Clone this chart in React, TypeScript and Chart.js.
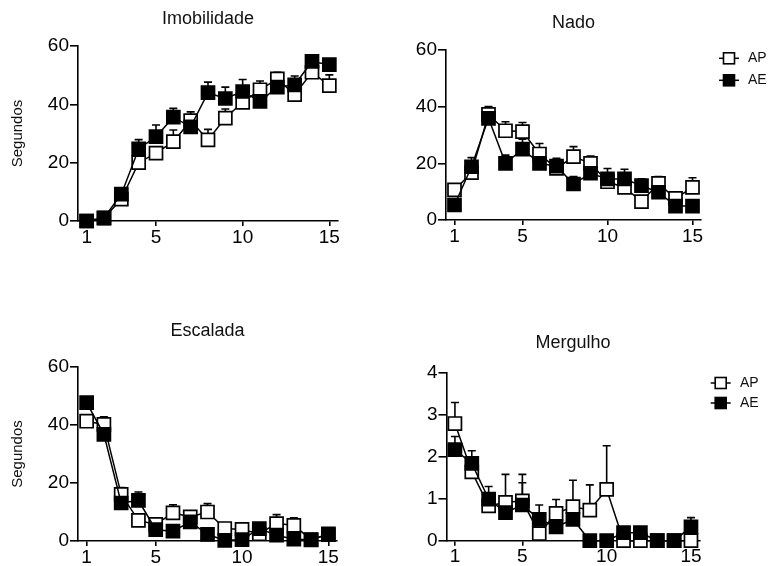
import React, { useEffect, useRef } from 'react';
import { Chart, registerables } from 'chart.js';

Chart.register(...registerables);

// ---- data ----
const days = [1, 2, 3, 4, 5, 6, 7, 8, 9, 10, 11, 12, 13, 14, 15];
const xTickValues = [1, 5, 10, 15];
const seriesLabels = ['AP', 'AE'];

const imobAP = [0, 1, 7.5, 20, 23.3, 27.2, 34.4, 27.8, 35.3, 40.7, 45, 48.7, 43.3, 51, 46.4];
const imobAPErr = [0.5, 0.5, 1, 1.5, 2, 4, 3, 3.6, 3.1, 3, 3, 2.3, 2, 2, 3.7];
const imobAE = [0, 1.1, 9.2, 24.7, 28.9, 35.6, 32.3, 44, 42, 44.4, 41, 45.9, 46.7, 54.7, 53.6];
const imobAEErr = [0.3, 0.5, 1, 3.2, 4, 3, 3, 3.6, 3.9, 4.1, 4, 2, 3, 1.5, 2];

const nadoAP = [10.6, 16.7, 37.3, 31.5, 31.2, 23.3, 18.2, 22.4, 20, 13.5, 11.5, 6.5, 12.9, 7.6, 11.5];
const nadoAPErr = [1, 1, 2.7, 3.2, 3.2, 3.7, 1.5, 3.5, 2.6, 1.5, 1.5, 1.5, 2.4, 1, 3.4];
const nadoAE = [5.3, 18.8, 35.9, 20, 25, 20, 19, 12.7, 16.5, 14.5, 14.5, 12.1, 9.8, 4.9, 4.9];
const nadoAEErr = [1, 3.2, 2, 2.9, 3.5, 2.4, 2.8, 2.6, 2.9, 3.7, 3.4, 2.4, 1.5, 1, 1];

const escAP = [41.3, 40.2, 16.1, 7.1, 5.7, 9.7, 8.3, 10, 4.3, 4, 2.5, 6, 5.4, 0.5, 2.2];
const escAPErr = [1, 2.6, 2.3, 1, 1, 2.8, 1.9, 2.9, 1, 1, 1, 3.1, 2.6, 0.5, 0.5];
const escAE = [47.7, 36.8, 13.1, 14, 3.9, 3.4, 6.6, 2.3, 0.2, 0.5, 4.3, 2, 0.6, 0.4, 2.5];
const escAEErr = [1, 2, 1.5, 2.9, 1, 1, 1.5, 0.5, 0.3, 0.3, 1, 0.5, 0.3, 0.3, 0.5];

const mergAP = [2.79, 1.64, 0.83, 0.91, 0.95, 0.17, 0.65, 0.81, 0.73, 1.22, 0, 0, 0, 0, 0];
const mergAPErr = [0.5, 0.1, 0.1, 0.67, 0.63, 0.1, 0.33, 0.63, 0.6, 1.04, 0, 0, 0, 0, 0];
const mergAE = [2.17, 1.84, 0.99, 0.67, 0.85, 0.51, 0.33, 0.51, 0, 0, 0.19, 0.19, 0, 0, 0.33];
const mergAEErr = [0.31, 0.3, 0.3, 0.2, 0.53, 0.34, 0.1, 0.14, 0, 0, 0.1, 0.1, 0, 0, 0.22];

const FONT = '"Liberation Sans", Arial, Helvetica, sans-serif';
Chart.defaults.font.family = FONT;
Chart.defaults.color = '#000';

// ---- plugins ----
const errorBarPlugin = {
  id: 'errorBars',
  beforeDatasetsDraw(chart: any) {
    const ctx = chart.ctx;
    const yScale = chart.scales.y;
    chart.data.datasets.forEach((ds: any, di: number) => {
      const meta = chart.getDatasetMeta(di);
      const errs = ds.errors as number[] | undefined;
      if (!errs) return;
      ctx.save();
      ctx.strokeStyle = '#000';
      ctx.lineWidth = 1.6;
      meta.data.forEach((pt: any, i: number) => {
        const e = errs[i];
        if (!e) return;
        const v = ds.data[i].y;
        const yTop = yScale.getPixelForValue(v + e);
        ctx.beginPath();
        ctx.moveTo(pt.x, pt.y);
        ctx.lineTo(pt.x, yTop);
        ctx.moveTo(pt.x - 4, yTop);
        ctx.lineTo(pt.x + 4, yTop);
        ctx.stroke();
      });
      ctx.restore();
    });
  },
};

const sideLegendPlugin = {
  id: 'sideLegend',
  afterDraw(chart: any, _args: any, opts: any) {
    if (!opts || !opts.show) return;
    const ctx = chart.ctx;
    ctx.save();
    ctx.font = `14px ${FONT}`;
    ctx.textBaseline = 'middle';
    ctx.textAlign = 'left';
    const order = [...chart.data.datasets].sort((a: any, b: any) => a.legendIndex - b.legendIndex);
    order.forEach((ds: any, i: number) => {
      const y = opts.top + i * opts.rowGap;
      const x0 = opts.left;
      ctx.strokeStyle = '#000';
      ctx.lineWidth = 1.5;
      ctx.beginPath();
      ctx.moveTo(x0, y);
      ctx.lineTo(x0 + 20, y);
      ctx.stroke();
      const s = 11;
      ctx.fillStyle = ds.pointBackgroundColor;
      ctx.fillRect(x0 + 10 - s / 2, y - s / 2, s, s);
      ctx.lineWidth = 1.6;
      ctx.strokeRect(x0 + 10 - s / 2, y - s / 2, s, s);
      ctx.fillStyle = '#111';
      ctx.fillText(ds.label, opts.textX, y);
    });
    ctx.restore();
  },
};

type PanelProps = {
  title: string;
  ap: number[];
  apErr: number[];
  ae: number[];
  aeErr: number[];
  yMax: number;
  yStep: number;
  yTitle: boolean;
  left: number;
  top: number;
  width: number;
  height: number;
  areaLeft: number;
  padRight: number;
  xAxisHeight: number;
  padBottom: number;
  titlePadTop: number;
  titlePadBottom: number;
  legend?: { left: number; top: number; rowGap: number; textX: number };
};

function Panel(p: PanelProps) {
  const ref = useRef<HTMLCanvasElement | null>(null);
  useEffect(() => {
    if (!ref.current) return;
    const mk = (vals: number[]) => days.map((d, i) => ({ x: d, y: vals[i] }));
    const chart = new Chart(ref.current, {
      type: 'line',
      data: {
        datasets: [
          {
            label: seriesLabels[0],
            data: mk(p.ap),
            errors: p.apErr,
            legendIndex: 0,
            order: 2,
            borderColor: '#000',
            borderWidth: 1.5,
            pointStyle: 'rect',
            pointRadius: 9.2,
            pointBorderWidth: 1.7,
            pointBorderColor: '#000',
            pointBackgroundColor: '#fff',
            tension: 0,
            clip: false,
          } as any,
          {
            label: seriesLabels[1],
            data: mk(p.ae),
            errors: p.aeErr,
            legendIndex: 1,
            order: 1,
            borderColor: '#000',
            borderWidth: 1.5,
            pointStyle: 'rect',
            pointRadius: 9.2,
            pointBorderWidth: 1.7,
            pointBorderColor: '#000',
            pointBackgroundColor: '#000',
            tension: 0,
            clip: false,
          } as any,
        ],
      },
      options: {
        responsive: false,
        animation: false,
        events: [],
        layout: {
          padding: { left: 0, top: 0, right: p.padRight, bottom: p.padBottom },
        },
        scales: {
          x: {
            type: 'linear',
            min: 0.5,
            max: 15.5,
            afterBuildTicks: (scale: any) => {
              scale.ticks = xTickValues.map((v) => ({ value: v }));
            },
            afterFit: (scale: any) => {
              scale.height = p.xAxisHeight;
            },
            ticks: {
              autoSkip: false,
              maxRotation: 0,
              padding: 0,
              color: '#000',
              font: { size: 19 },
            },
            grid: {
              display: true,
              drawOnChartArea: false,
              drawTicks: true,
              tickLength: 5,
              color: '#000',
              lineWidth: 1.6,
            },
            border: { display: true, color: '#000', width: 1.6 },
          },
          y: {
            type: 'linear',
            min: 0,
            max: p.yMax,
            ticks: {
              stepSize: p.yStep,
              padding: 1,
              color: '#000',
              font: { size: 19 },
            },
            afterFit: (scale: any) => {
              scale.width = p.areaLeft;
            },
            grid: {
              display: true,
              drawOnChartArea: false,
              drawTicks: true,
              tickLength: 8,
              color: '#000',
              lineWidth: 1.6,
            },
            border: { display: true, color: '#000', width: 1.6 },
            title: {
              display: p.yTitle,
              text: 'Segundos',
              color: '#111',
              font: { size: 15 },
              padding: { top: 9, bottom: 0 },
            },
          },
        },
        plugins: {
          legend: { display: false },
          tooltip: { enabled: false },
          title: {
            display: true,
            text: p.title,
            position: 'top',
            fullSize: false,
            color: '#111',
            font: { size: 18, weight: 'normal' },
            padding: { top: p.titlePadTop, bottom: p.titlePadBottom },
          },
          sideLegend: p.legend ? { show: true, ...p.legend } : { show: false },
        } as any,
      },
      plugins: [errorBarPlugin, sideLegendPlugin],
    } as any);
    return () => chart.destroy();
  }, []);
  return (
    <canvas
      ref={ref}
      width={p.width}
      height={p.height}
      style={{ position: 'absolute', left: p.left, top: p.top, width: p.width, height: p.height }}
    />
  );
}

export default function App() {
  return (
    <div
      style={{
        position: 'absolute',
        left: 0,
        top: 0,
        width: 769,
        height: 566,
        background: '#fff',
        overflow: 'hidden',
      }}
    >
      <Panel
        title="Imobilidade"
        ap={imobAP}
        apErr={imobAPErr}
        ae={imobAE}
        aeErr={imobAEErr}
        yMax={60}
        yStep={20}
        yTitle={true}
        left={0}
        top={0}
        width={384}
        height={283}
        areaLeft={78}
        padRight={46}
        xAxisHeight={32}
        padBottom={30}
        titlePadTop={8}
        titlePadBottom={16.4}
      />
      <Panel
        title="Nado"
        ap={nadoAP}
        apErr={nadoAPErr}
        ae={nadoAE}
        aeErr={nadoAEErr}
        yMax={60}
        yStep={20}
        yTitle={false}
        left={384}
        top={0}
        width={385}
        height={283}
        areaLeft={62}
        padRight={68}
        xAxisHeight={32}
        padBottom={31}
        titlePadTop={12.2}
        titlePadBottom={16.2}
        legend={{ left: 335, top: 58.3, rowGap: 22, textX: 364 }}
      />
      <Panel
        title="Escalada"
        ap={escAP}
        apErr={escAPErr}
        ae={escAE}
        aeErr={escAEErr}
        yMax={60}
        yStep={20}
        yTitle={true}
        left={0}
        top={283}
        width={384}
        height={283}
        areaLeft={78}
        padRight={47}
        xAxisHeight={25}
        padBottom={0}
        titlePadTop={36.9}
        titlePadBottom={25.5}
      />
      <Panel
        title="Mergulho"
        ap={mergAP}
        apErr={mergAPErr}
        ae={mergAE}
        aeErr={mergAEErr}
        yMax={4}
        yStep={1}
        yTitle={false}
        left={384}
        top={283}
        width={385}
        height={283}
        areaLeft={62.5}
        padRight={69.6}
        xAxisHeight={25.3}
        padBottom={0}
        titlePadTop={49.2}
        titlePadBottom={18.9}
        legend={{ left: 326.7, top: 100, rowGap: 20, textX: 356 }}
      />
    </div>
  );
}
